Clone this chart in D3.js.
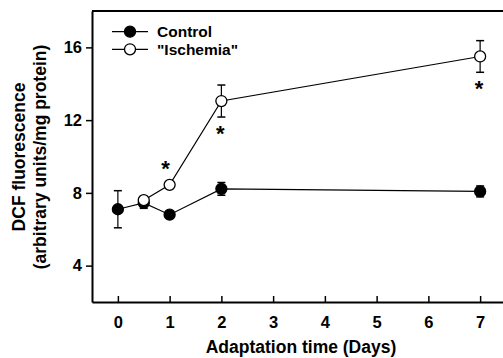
<!DOCTYPE html>
<html>
<head>
<meta charset="utf-8">
<script src="https://cdn.jsdelivr.net/npm/d3@7"></script>
<style>
  body { margin: 0; background: #fff; }
  text { font-family: "Liberation Sans", Arial, sans-serif; font-weight: bold; fill: #000; }
</style>
</head>
<body>
<div id="chart"></div>
<script>
var svgWidth = 503;
var svgHeight = 358;

var margin = { top: 11, right: -3, bottom: 56, left: 92 };
var chartWidth = svgWidth - margin.left - margin.right;
var chartHeight = svgHeight - margin.top - margin.bottom;

// data
var days = [0, 0.5, 1, 2, 7];
var controlMean = [7.1, 7.45, 6.8, 8.22, 8.08];
var controlErr = [1.02, 0.3, 0.1, 0.35, 0.3];
var ischemiaDays = [0.5, 1, 2, 7];
var ischemiaMean = [7.6, 8.44, 13.05, 15.5];
var ischemiaErr = [0.2, 0.1, 0.88, 0.87];
var ischemiaStar = ["", "above", "below", "below"];
var xTicks = [0, 1, 2, 3, 4, 5, 6, 7];
var yTicks = [4, 8, 12, 16];

var control = days.map((d, i) => ({ x: d, y: controlMean[i], e: controlErr[i] }));
var ischemia = ischemiaDays.map((d, i) => ({ x: d, y: ischemiaMean[i], e: ischemiaErr[i], star: ischemiaStar[i] }));

var svg = d3.select("#chart")
  .append("svg")
  .attr("width", svgWidth)
  .attr("height", svgHeight);

var chartGroup = svg.append("g")
  .attr("transform", `translate(${margin.left}, ${margin.top})`);

var x = d3.scaleLinear().domain([-0.5, 7.5]).range([0, chartWidth]);
var y = d3.scaleLinear().domain([2, 18]).range([chartHeight, 0]);

// frame top line
chartGroup.append("line")
  .attr("x1", 0).attr("x2", chartWidth)
  .attr("y1", 0).attr("y2", 0)
  .attr("stroke", "#000").attr("stroke-width", 2);

// axes
var bottomAxis = d3.axisBottom(x).tickValues(xTicks).tickSize(-6).tickSizeOuter(0).tickPadding(14);
var leftAxis = d3.axisLeft(y).tickValues(yTicks).tickSize(6).tickSizeOuter(0).tickPadding(4);

var xAxis = chartGroup.append("g")
  .attr("transform", `translate(0, ${chartHeight})`)
  .call(bottomAxis);
var yAxis = chartGroup.append("g").call(leftAxis);

[xAxis, yAxis].forEach(function(a) {
  a.select(".domain").attr("stroke-width", 2);
  a.selectAll(".tick line").attr("stroke-width", 1.5);
  a.selectAll(".tick text").style("font-size", "16.5px").style("font-weight", "bold")
    .style("font-family", "'Liberation Sans', Arial, sans-serif");
});

// axis labels
chartGroup.append("text")
  .attr("x", 301 - margin.left)
  .attr("y", chartHeight + 51)
  .attr("text-anchor", "middle")
  .style("font-size", "17.5px")
  .text("Adaptation time (Days)");

var yLabel = svg.append("text")
  .attr("transform", "translate(0, 157) rotate(-90)")
  .attr("text-anchor", "middle")
  .style("font-size", "17.5px");
yLabel.append("tspan").attr("x", 0).attr("y", 25).text("DCF fluorescence");
yLabel.append("tspan").attr("x", 0).attr("y", 46).text("(arbitrary units/mg protein)");

var line = d3.line().x(d => x(d.x)).y(d => y(d.y));

function drawSeries(data, fill) {
  var g = chartGroup.append("g");
  g.append("path")
    .datum(data)
    .attr("d", line)
    .attr("fill", "none")
    .attr("stroke", "#000")
    .attr("stroke-width", 1.2);
  var eb = g.selectAll(".err").data(data).enter().append("g");
  eb.append("line")
    .attr("x1", d => x(d.x)).attr("x2", d => x(d.x))
    .attr("y1", d => y(d.y + d.e)).attr("y2", d => y(d.y - d.e))
    .attr("stroke", "#000").attr("stroke-width", 1.2);
  eb.append("line")
    .attr("x1", d => x(d.x) - 4).attr("x2", d => x(d.x) + 4)
    .attr("y1", d => y(d.y + d.e)).attr("y2", d => y(d.y + d.e))
    .attr("stroke", "#000").attr("stroke-width", 1.5);
  eb.append("line")
    .attr("x1", d => x(d.x) - 4).attr("x2", d => x(d.x) + 4)
    .attr("y1", d => y(d.y - d.e)).attr("y2", d => y(d.y - d.e))
    .attr("stroke", "#000").attr("stroke-width", 1.5);
  g.selectAll("circle").data(data).enter().append("circle")
    .attr("cx", d => x(d.x))
    .attr("cy", d => y(d.y))
    .attr("r", 5.5)
    .attr("fill", fill)
    .attr("stroke", "#000")
    .attr("stroke-width", 1.3);
  return g;
}

drawSeries(control, "#000");
drawSeries(ischemia, "#fff");

// significance asterisks
chartGroup.selectAll(".star")
  .data(ischemia.filter(d => d.star))
  .enter().append("text")
  .attr("x", d => x(d.x) - (d.star === "above" ? 4 : 1))
  .attr("y", d => d.star === "above" ? y(d.y + d.e) - 7 : y(d.y - d.e) + 24)
  .attr("text-anchor", "middle")
  .style("font-size", "22px")
  .text("*");

// legend
var legend = svg.append("g");
var legendItems = [{ label: "Control", fill: "#000" }, { label: "\"Ischemia\"", fill: "#fff" }];
legendItems.forEach(function(item, i) {
  var ly = 31.7 + i * 17.6;
  legend.append("line")
    .attr("x1", 112).attr("x2", 148).attr("y1", ly).attr("y2", ly)
    .attr("stroke", "#000").attr("stroke-width", 1.2);
  legend.append("circle")
    .attr("cx", 130).attr("cy", ly).attr("r", 5.5)
    .attr("fill", item.fill).attr("stroke", "#000").attr("stroke-width", 1.3);
  legend.append("text")
    .attr("x", 157).attr("y", ly + 5.5)
    .style("font-size", "15.5px")
    .text(item.label);
});
</script>
</body>
</html>
